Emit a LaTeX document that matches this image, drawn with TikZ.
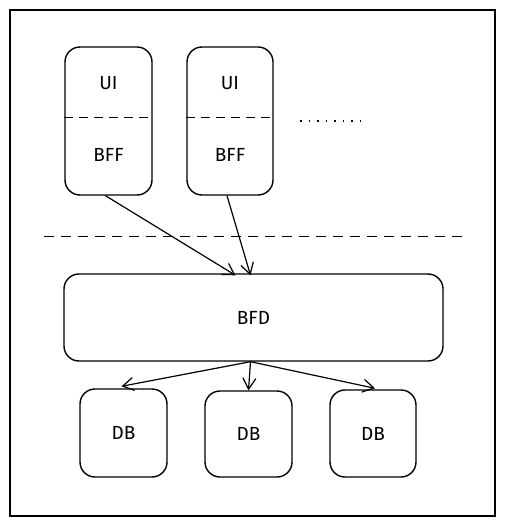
\documentclass[tikz,border=0pt]{standalone}
\usepackage{fontspec}
\setmainfont{Fira Sans}
\usepackage{tikz}
\usetikzlibrary{arrows.meta, positioning, calc}

\tikzset{
  label/.style={font=\fontsize{19}{22}\selectfont},
  sketch/.style={draw, line width=1.4pt, rounded corners=15pt, label},
  split/.style={line width=1pt, dash pattern=on 9pt off 6pt},
  flow/.style={line width=1.2pt, -{Straight Barb[length=11pt,width=13pt]}},
}

\begin{document}
\begin{tikzpicture}[x=1pt, y=-1pt]
  % canvas and outer frame
  \useasboundingbox (0,0) rectangle (505,526);
  \draw[line width=1.5pt] (10,10) rectangle (495,516);

  % front ends: UI above, BFF below
  \node[sketch, minimum width=87pt, minimum height=148pt] (fe1) at (108.5,121) {};
  \node[sketch, minimum width=86pt, minimum height=148pt] (fe2) at (230,121) {};
  \node[label] (ui1) at (108.5,83) {UI};
  \node[label] (bff1) at (108.5,155) {BFF};
  \node[label] (ui2) at (230,83) {UI};
  \node[label] (bff2) at (230,155) {BFF};
  \draw[split] ($(fe1.west)+(0,-3)$) -- ($(fe1.east)+(0,-3)$);
  \draw[split] ($(fe2.west)+(0,-3)$) -- ($(fe2.east)+(0,-3)$);

  % more front ends
  \coordinate (morel) at (300,121);
  \coordinate (morer) at (362,121);
  \draw[line width=1.6pt, dash pattern=on 1.6pt off 6.9pt] (morel) -- (morer);

  % divider
  \coordinate (divl) at (44,236);
  \coordinate (divr) at (462,236);
  \draw[split, dash pattern=on 10pt off 7pt] (divl) -- (divr);

  % BFD
  \node[sketch, minimum width=379pt, minimum height=87pt] (bfd) at (253.5,317.5) {BFD};

  % databases
  \node[sketch, minimum width=87pt, minimum height=88pt] (db1) at (123.5,433) {DB};
  \node[sketch, minimum width=87pt, minimum height=86pt] (db2) at (248.5,434) {DB};
  \node[sketch, minimum width=86pt, minimum height=87pt] (db3) at (373,433.5) {DB};

  % arrows
  \draw[flow] ($(fe1.south)+(-3,0)$) -- ($(bfd.north)+(-18,2)$);
  \draw[flow] ($(fe2.south)+(-3,0)$) -- ($(bfd.north)+(-3,2)$);
  \draw[flow] ($(bfd.south)+(-3,0)$) -- ($(db1.north)+(-2,-2)$);
  \draw[flow] ($(bfd.south)+(-3,0)$) -- (db2.north);
  \draw[flow] ($(bfd.south)+(-3,0)$) -- ($(db3.north)+(2,-1)$);
\end{tikzpicture}
\end{document}
